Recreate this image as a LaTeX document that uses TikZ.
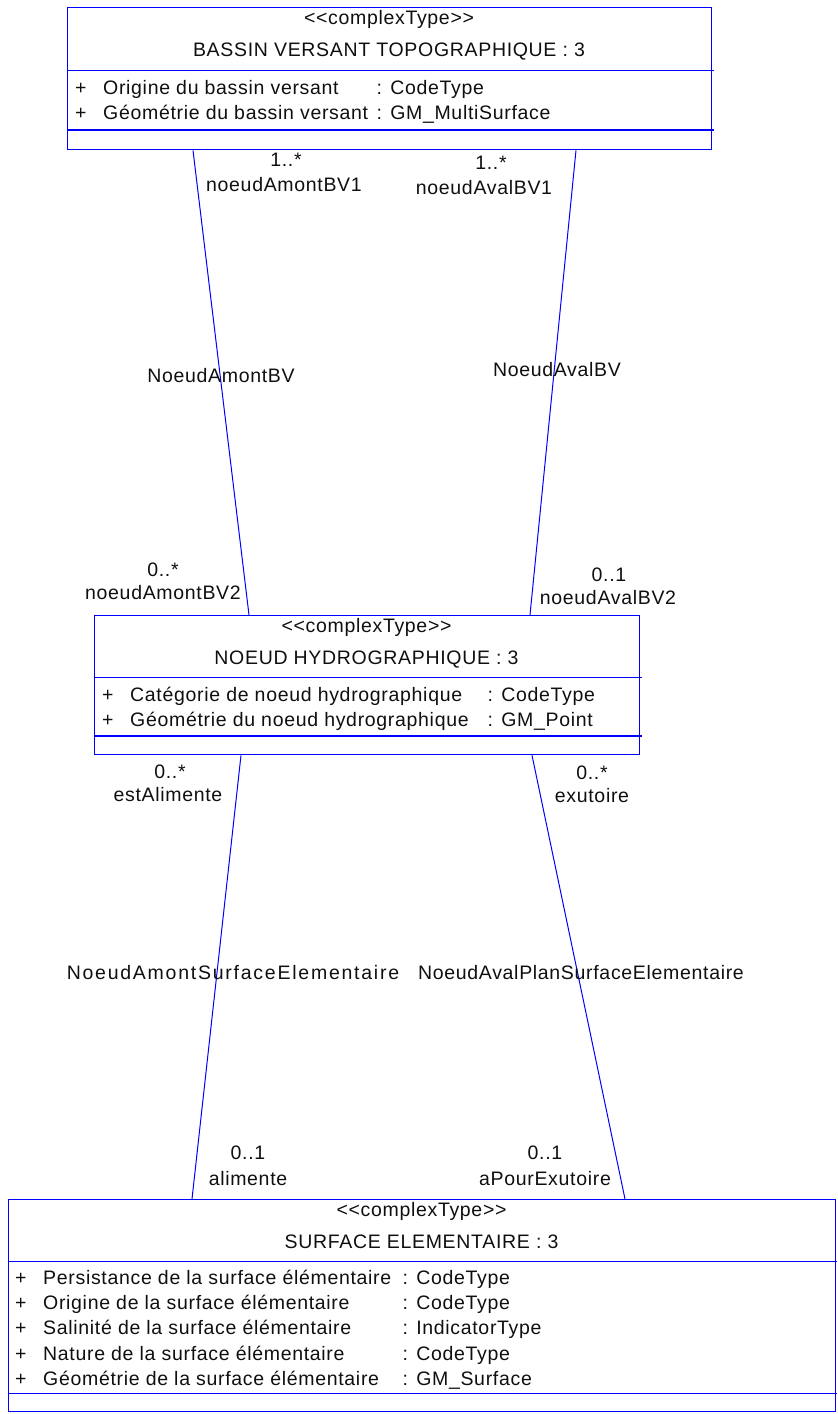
\documentclass[tikz,border=0pt]{standalone}
\usepackage{fontspec}
\newfontfamily\umlfont{Liberation Sans}[LetterSpace=3.5]
\newfontfamily\umlwide{Liberation Sans}[LetterSpace=9]
\usetikzlibrary{calc}
\definecolor{umlblue}{RGB}{0,0,255}
\definecolor{umltext}{RGB}{15,15,15}
\begin{document}
\begin{tikzpicture}[x=1pt,y=-1pt,
  box/.style={draw=umlblue, line width=1.3pt, inner sep=0pt, anchor=north west},
  sepline/.style={draw=umlblue, line width=1.3pt},
  assoc/.style={draw=umlblue, line width=1pt},
  txt/.style={inner sep=0pt, font=\umlfont\fontsize{19.5}{22}\selectfont, text=umltext},
  ctr/.style={txt, anchor=base},
  lft/.style={txt, anchor=base west},
  lbl/.style={txt, anchor=base},
  lblwide/.style={lbl, font=\umlwide\fontsize{19.5}{22}\selectfont}]
\useasboundingbox (0,0) rectangle (838,1414);

% ---------- top class ----------
\node[box, minimum width=644pt, minimum height=142pt] (bv) at (67,7) {};
\draw[sepline] (67,70.7) -- (714,70.7);
\draw[sepline] (67,130) -- (714,130);
\node[ctr] (bvs) at (389,24) {<{}<complexType>{}>};
\node[ctr] (bvt) at (389,56.5) {BASSIN VERSANT TOPOGRAPHIQUE : 3};
\node[ctr] (bvp1) at (80.7,94) {+};
\node[lft] (bva1) at (103,94) {Origine du bassin versant};
\node[lft] (bvc1) at (376.5,94) {: CodeType};
\node[ctr] (bvp2) at (80.7,119) {+};
\node[lft] (bva2) at (103,119) {Géométrie du bassin versant};
\node[lft] (bvc2) at (376.5,119) {: GM\_MultiSurface};

% ---------- middle class ----------
\node[box, minimum width=545pt, minimum height=139pt] (nh) at (94,615) {};
\draw[sepline] (94,677.7) -- (642,677.7);
\draw[sepline] (94,736) -- (642,736);
\node[ctr] (nhs) at (366.5,632) {<{}<complexType>{}>};
\node[ctr] (nht) at (366.5,664.5) {NOEUD HYDROGRAPHIQUE : 3};
\node[ctr] (nhp1) at (107.7,701.5) {+};
\node[lft] (nha1) at (130,701.5) {Catégorie de noeud hydrographique};
\node[lft] (nhc1) at (487.5,701.5) {: CodeType};
\node[ctr] (nhp2) at (107.7,726.5) {+};
\node[lft] (nha2) at (130,726.5) {Géométrie du noeud hydrographique};
\node[lft] (nhc2) at (487.5,726.5) {: GM\_Point};

% ---------- bottom class ----------
\node[box, minimum width=827pt, minimum height=211.5pt] (se) at (8,1199) {};
\draw[sepline] (8,1261.5) -- (837,1261.5);
\draw[sepline] (8,1393.5) -- (837,1393.5);
\node[ctr] (ses) at (421.5,1216) {<{}<complexType>{}>};
\node[ctr] (set) at (421.5,1248) {SURFACE ELEMENTAIRE : 3};
\node[ctr] (sep1) at (20.7,1284) {+};
\node[lft] (sea1) at (43,1284) {Persistance de la surface élémentaire};
\node[lft] (sec1) at (402.5,1284) {: CodeType};
\node[ctr] (sep2) at (20.7,1309.3) {+};
\node[lft] (sea2) at (43,1309.3) {Origine de la surface élémentaire};
\node[lft] (sec2) at (402.5,1309.3) {: CodeType};
\node[ctr] (sep3) at (20.7,1334.6) {+};
\node[lft] (sea3) at (43,1334.6) {Salinité de la surface élémentaire};
\node[lft] (sec3) at (402.5,1334.6) {: IndicatorType};
\node[ctr] (sep4) at (20.7,1360) {+};
\node[lft] (sea4) at (43,1360) {Nature de la surface élémentaire};
\node[lft] (sec4) at (402.5,1360) {: CodeType};
\node[ctr] (sep5) at (20.7,1385) {+};
\node[lft] (sea5) at (43,1385) {Géométrie de la surface élémentaire};
\node[lft] (sec5) at (402.5,1385) {: GM\_Surface};

% ---------- attachment points ----------
\coordinate (bvL) at ($(bv.south west)+(126,0)$);
\coordinate (bvR) at ($(bv.south west)+(509,0)$);
\coordinate (nhTL) at ($(nh.north west)+(155,0)$);
\coordinate (nhTR) at ($(nh.north west)+(436,0)$);
\coordinate (nhBL) at ($(nh.south west)+(147,0)$);
\coordinate (nhBR) at ($(nh.south west)+(438,0)$);
\coordinate (seL) at ($(se.north west)+(184,0)$);
\coordinate (seR) at ($(se.north west)+(617,0)$);

% ---------- associations ----------
\draw[assoc] (bvL) -- (nhTL);
\draw[assoc] (bvR) -- (nhTR);
\draw[assoc] (nhBL) -- (seL);
\draw[assoc] (nhBR) -- (seR);

% ---------- association labels ----------
\node[lbl] (m1) at (286,166.5) {1..*};
\node[lbl] (r1) at (284,191.5) {noeudAmontBV1};
\node[lbl] (m2) at (491,169.5) {1..*};
\node[lbl] (r2) at (484,194.5) {noeudAvalBV1};
\node[lbl] (n1) at (221,382.5) {NoeudAmontBV};
\node[lbl] (n2) at (557,376.5) {NoeudAvalBV};
\node[lbl] (m3) at (163,576.5) {0..*};
\node[lbl] (r3) at (163,599.5) {noeudAmontBV2};
\node[lbl] (m4) at (609,581.5) {0..1};
\node[lbl] (r4) at (608,604.5) {noeudAvalBV2};
\node[lbl] (m5) at (170,778.5) {0..*};
\node[lbl] (r5) at (168,801.5) {estAlimente};
\node[lbl] (m6) at (592,779.5) {0..*};
\node[lbl] (r6) at (592,802.5) {exutoire};
\node[lblwide] (n3) at (233,979.5) {NoeudAmontSurfaceElementaire};
\node[lbl] (n4) at (581,979.5) {NoeudAvalPlanSurfaceElementaire};
\node[lbl] (m7) at (248,1159.5) {0..1};
\node[lbl] (r7) at (248,1185.5) {alimente};
\node[lbl] (m8) at (545,1159.5) {0..1};
\node[lbl] (r8) at (545,1185.5) {aPourExutoire};
\end{tikzpicture}
\end{document}
